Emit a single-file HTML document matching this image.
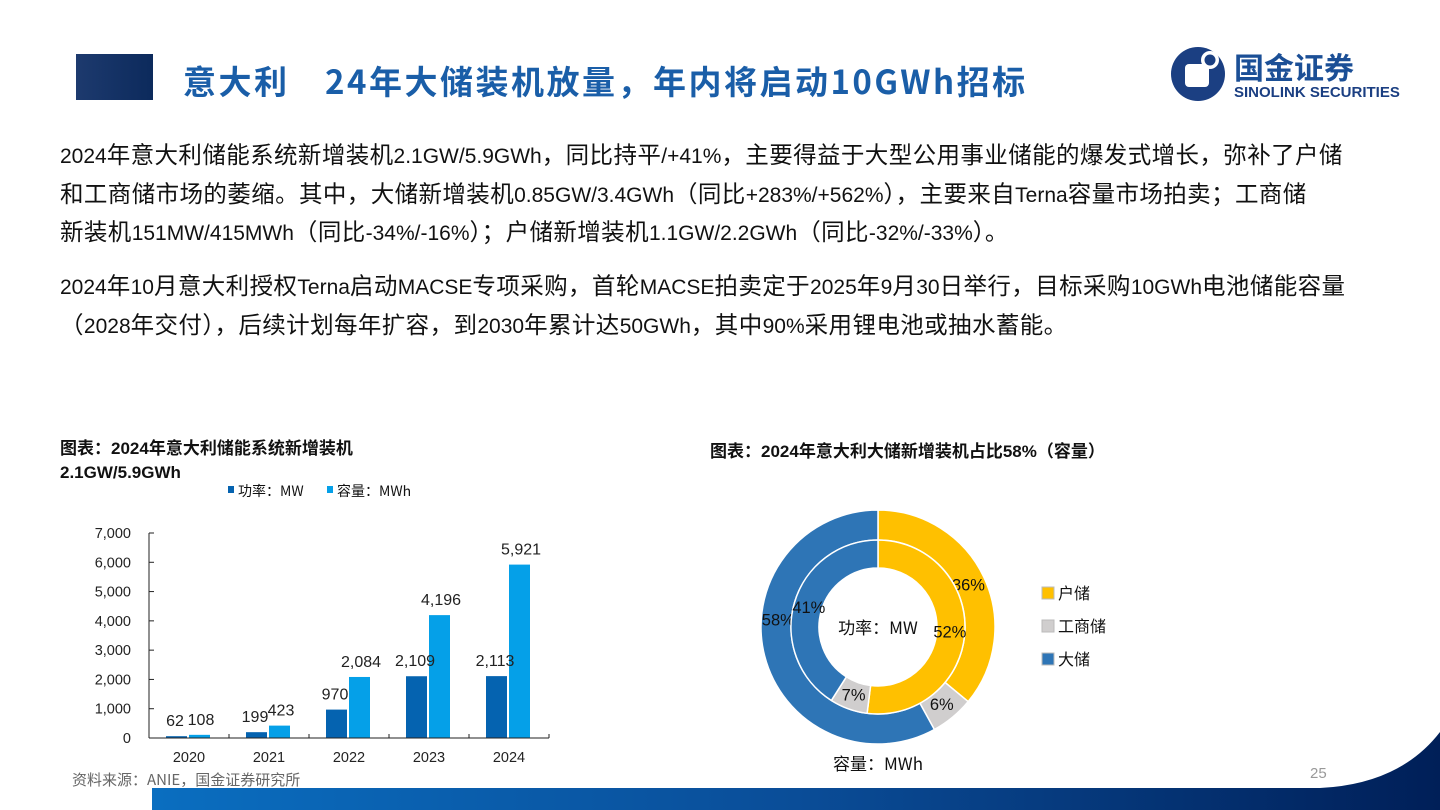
<!DOCTYPE html>
<html><head><meta charset="utf-8">
<style>
body{margin:0;width:1440px;height:810px;position:relative;overflow:hidden;background:#fff;font-family:"Liberation Sans","Noto Sans CJK SC",sans-serif;}
.ln{position:absolute;left:60px;font-size:23.5px;color:#111;white-space:nowrap;font-family:"Noto Sans CJK SC",sans-serif;letter-spacing:0.4px}
.n{font-family:"Liberation Sans Narrow","Liberation Sans",sans-serif;font-size:21px;letter-spacing:0}
.t{position:absolute;font-weight:bold;font-size:17px;color:#111;font-family:"Liberation Sans","Noto Sans CJK SC",sans-serif}
</style></head><body>
<div style="position:absolute;left:76px;top:54px;width:77px;height:46px;background:linear-gradient(90deg,#1d3a6e,#0c2a5c)"></div>
<div style="position:absolute;left:183px;top:56px;font-size:33px;letter-spacing:2.5px;font-weight:bold;color:#1a5ea8;font-family:'Noto Sans CJK SC',sans-serif;white-space:nowrap">意大利　24年大储装机放量，年内将启动10GWh招标</div>
<div style="position:absolute;left:1170px;top:45px;width:250px;height:58px">
<svg width="250" height="58"><circle cx="28" cy="29" r="27" fill="#1b3f82"/><rect x="15" y="19" width="24" height="23" rx="4" fill="#fff"/><circle cx="40" cy="15" r="9" fill="#fff"/><circle cx="40" cy="15" r="5.5" fill="#1b3f82"/>
<text x="64" y="34" font-size="30" font-weight="bold" fill="#1b4f96" font-family="Noto Sans CJK SC">国金证券</text>
<text x="64" y="52" font-size="15" font-weight="bold" fill="#1b3f82" font-family="Liberation Sans">SINOLINK SECURITIES</text></svg></div>

<div class="ln" style="top:136px"><span class="n">2024</span>年意大利储能系统新增装机<span class="n">2.1GW/5.9GWh</span>，同比持平<span class="n">/+41%</span>，主要得益于大型公用事业储能的爆发式增长，弥补了户储</div>
<div class="ln" style="top:175px">和工商储市场的萎缩。其中，大储新增装机<span class="n">0.85GW/3.4GWh</span>（同比<span class="n">+283%/+562%</span>），主要来自<span class="n">Terna</span>容量市场拍卖；工商储</div>
<div class="ln" style="top:213px">新装机<span class="n">151MW/415MWh</span>（同比<span class="n">-34%/-16%</span>）；户储新增装机<span class="n">1.1GW/2.2GWh</span>（同比<span class="n">-32%/-33%</span>）。</div>
<div class="ln" style="top:267px"><span class="n">2024</span>年<span class="n">10</span>月意大利授权<span class="n">Terna</span>启动<span class="n">MACSE</span>专项采购，首轮<span class="n">MACSE</span>拍卖定于<span class="n">2025</span>年<span class="n">9</span>月<span class="n">30</span>日举行，目标采购<span class="n">10GWh</span>电池储能容量</div>
<div class="ln" style="top:306px">（<span class="n">2028</span>年交付），后续计划每年扩容，到<span class="n">2030</span>年累计达<span class="n">50GWh</span>，其中<span class="n">90%</span>采用锂电池或抽水蓄能。</div>

<div class="t" style="left:60px;top:437px;line-height:24px">图表：2024年意大利储能系统新增装机<br>2.1GW/5.9GWh</div>
<div class="t" style="left:710px;top:437px">图表：2024年意大利大储新增装机占比58%（容量）</div>

<svg id="bar" style="position:absolute;left:0;top:470px" width="560" height="300"></svg>
<svg id="donut" style="position:absolute;left:740px;top:490px" width="400" height="290"></svg>

<div style="position:absolute;left:72px;top:769px;font-size:15px;color:#666;font-family:'Noto Sans CJK SC',sans-serif">资料来源：ANIE，国金证券研究所</div>
<div style="position:absolute;left:1310px;top:765px;font-size:15px;color:#999">25</div>
<svg style="position:absolute;left:0;top:720px" width="1440" height="90">
<defs><linearGradient id="fg" x1="0" x2="1"><stop offset="0" stop-color="#0a6ec0"/><stop offset=".5" stop-color="#0a4d98"/><stop offset="1" stop-color="#001f58"/></linearGradient></defs>
<path d="M152 68 L1320 68 Q1400 64 1440 12 L1440 90 L152 90 Z" fill="url(#fg)"/></svg>

<script>
const years=['2020','2021','2022','2023','2024'];
const powerMW=[62,199,970,2109,2113];
const capMWh=[108,423,2084,4196,5921];
const yTicks=[0,1000,2000,3000,4000,5000,6000,7000];
const NS='http://www.w3.org/2000/svg';
function mk(p,t,a,txt){const e=document.createElementNS(NS,t);for(const k in a)e.setAttribute(k,a[k]);if(txt!=null)e.textContent=txt;p.appendChild(e);return e;}
const bar=document.getElementById('bar');
const x0=149,yb=268,yt=63,gw=80;
const ys=v=>yb-(v/7000)*(yb-yt);
const xc=i=>x0+gw/2+i*gw;
let r=mk(bar,'rect',{x:228,y:16,width:6,height:7,fill:'#0563b0'});
let t=mk(bar,'text',{x:238,y:26,'font-size':14,fill:'#111','font-family':'Noto Sans CJK SC'},'功率：MW');
r=mk(bar,'rect',{x:327,y:16,width:6,height:7,fill:'#05a0e8'});
t=mk(bar,'text',{x:337,y:26,'font-size':14,fill:'#111','font-family':'Noto Sans CJK SC'},'容量：MWh');
yTicks.forEach(v=>{const y=ys(v);
 let l=mk(bar,'line',{x1:x0,x2:x0+5,y1:y,y2:y,stroke:'#222'});
 let tx=mk(bar,'text',{x:131,y:y+5,'text-anchor':'end','font-size':14.5,fill:'#222'},v.toLocaleString('en-US'));});
years.forEach((yr,i)=>{const c=xc(i);
 let b=mk(bar,'rect',{x:c-23,y:ys(powerMW[i]),width:21,height:yb-ys(powerMW[i]),fill:'#0563b0'});
 b=mk(bar,'rect',{x:c,y:ys(capMWh[i]),width:21,height:yb-ys(capMWh[i]),fill:'#05a0e8'});
 let l1=mk(bar,'text',{x:c-14,y:ys(powerMW[i])-10,'text-anchor':'middle','font-size':16,fill:'#222'},powerMW[i].toLocaleString('en-US'));
 let l2=mk(bar,'text',{x:c+12,y:ys(capMWh[i])-10,'text-anchor':'middle','font-size':16,fill:'#222'},capMWh[i].toLocaleString('en-US'));
 let xl=mk(bar,'text',{x:c,y:yb+24,'text-anchor':'middle','font-size':14.5,fill:'#222'},yr);
 let tk=mk(bar,'line',{x1:x0+gw*(i+1),x2:x0+gw*(i+1),y1:yb,y2:yb-4,stroke:'#222'});
});
let ax=mk(bar,'line',{x1:x0,x2:x0,y1:yt,y2:yb,stroke:'#222'});
ax=mk(bar,'line',{x1:x0,x2:x0+gw*5,y1:yb,y2:yb,stroke:'#222'});

const segs=['户储','工商储','大储'];
const segColors=['#ffc000','#d0cece','#2e75b6'];
const outerPct=[36,6,58];
const innerPct=[52,7,41];
const dn=document.getElementById('donut');
const cx=138,cy=137;
function arc(r0,r1,a0,a1){const p=(r,a)=>[cx+r*Math.sin(a),cy-r*Math.cos(a)];const lg=(a1-a0)>Math.PI?1:0;
 const A=p(r1,a0),B=p(r1,a1),C=p(r0,a1),D=p(r0,a0);
 return `M${A}A${r1},${r1} 0 ${lg} 1 ${B}L${C}A${r0},${r0} 0 ${lg} 0 ${D}Z`;}
function ring(vals,r0,r1,lr,nm,bigPos){let a=0;const tot=vals.reduce((s,v)=>s+v,0);
 vals.forEach((v,i)=>{const a1=a+v/tot*2*Math.PI;
  const p=mk(dn,'path',{d:arc(r0,r1,a,a1),fill:segColors[i],stroke:'#fff','stroke-width':1.5});
  const f=(v/tot>0.5)?bigPos:0.5;const m=a+(a1-a)*f;
  const lt=mk(dn,'text',{x:cx+lr*Math.sin(m),y:cy-lr*Math.cos(m)+6,'text-anchor':'middle','font-size':16.5,fill:'#111'},v+'%');
  a=a1;});}
ring(outerPct,87,117,100,'outer',0.59);
ring(innerPct,59,87,72,'inner',0.5);
let ct=mk(dn,'text',{x:cx,y:cy+7,'text-anchor':'middle','font-size':17,fill:'#111','font-family':'Noto Sans CJK SC'},'功率：MW');
ct=mk(dn,'text',{x:cx,y:280,'text-anchor':'middle','font-size':17,fill:'#111','font-family':'Noto Sans CJK SC'},'容量：MWh');
segs.forEach((s,i)=>{const y=97+i*33;
 const sw=mk(dn,'rect',{x:302,y:y,width:12,height:12,fill:segColors[i],stroke:'#bbb'});
 const lt=mk(dn,'text',{x:318,y:y+12,'font-size':16,fill:'#111','font-family':'Noto Sans CJK SC'},s);});
</script>
</body></html>
